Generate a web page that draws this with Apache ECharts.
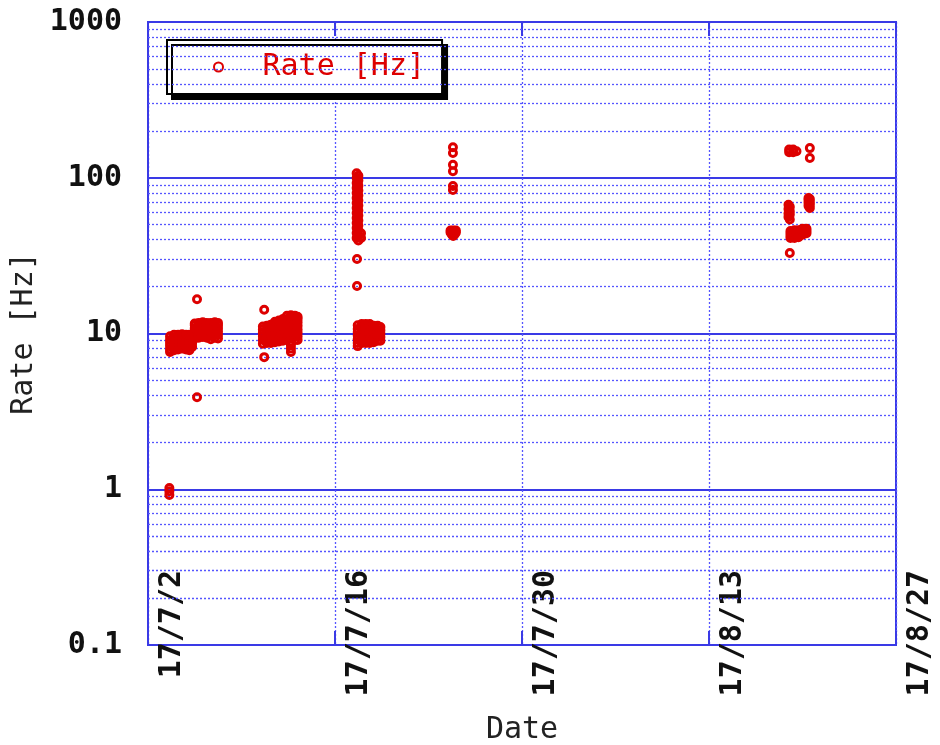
<!DOCTYPE html>
<html>
<head>
<meta charset="utf-8">
<script src="https://cdn.jsdelivr.net/npm/echarts@6/dist/echarts.min.js"></script>
<style>
html,body{margin:0;padding:0;background:#fff;}
#chart{width:940px;height:745px;}
</style>
</head>
<body>
<div id="chart"></div>
<script>
// x values are days since 2017-07-02, y values are rate in Hz.
// Each run lists [day, [rates read at that day]].
const xTickLabels = ['17/7/2', '17/7/16', '17/7/30', '17/8/13', '17/8/27'];
const yTickLabels = ['0.1', '1', '10', '100', '1000'];
const seriesName = 'Rate [Hz]';

const runJul3 = [
  [1.6, [0.92, 0.97, 1.02]],
  [1.65, [7.6, 7.9, 8.3, 8.7, 9.1, 9.6]],
  [1.95, [7.8, 8.2, 8.6, 9.0, 9.4, 9.8]],
  [2.25, [7.9, 8.3, 8.7, 9.1, 9.5, 9.8]],
  [2.55, [8.0, 8.4, 8.8, 9.2, 9.6, 9.9]],
  [2.85, [7.9, 8.3, 8.7, 9.1, 9.5, 9.8]],
  [3.1, [7.8, 8.2, 8.6, 9.0, 9.4, 9.8]],
  [3.3, [8.2, 8.6, 9.0, 9.4, 9.7]]
];
const runJul5 = [
  [3.5, [9.3, 9.8, 10.3, 10.8, 11.3, 11.6]],
  [3.67, [3.9, 16.6]],
  [3.8, [9.4, 9.9, 10.4, 10.9, 11.4, 11.7]],
  [4.1, [9.5, 10.0, 10.5, 11.0, 11.5, 11.8]],
  [4.4, [9.4, 9.9, 10.4, 10.9, 11.4, 11.7]],
  [4.7, [9.2, 9.7, 10.2, 10.7, 11.2, 11.7]],
  [5.0, [9.4, 9.9, 10.4, 10.9, 11.4, 11.8]],
  [5.24, [9.3, 9.8, 10.3, 10.8, 11.3, 11.7]]
];
const runJul11 = [
  [8.6, [8.6, 9.1, 9.6, 10.1, 10.6, 11.1]],
  [8.7, [7.05, 14.2]],
  [8.9, [8.7, 9.1, 9.6, 10.1, 10.6, 11.2]],
  [9.2, [8.7, 9.2, 9.7, 10.2, 10.7, 11.4]],
  [9.5, [8.8, 9.2, 9.7, 10.2, 10.8, 11.4, 11.9]],
  [9.8, [8.9, 9.3, 9.8, 10.3, 10.9, 11.5, 12.1]],
  [10.1, [9.0, 9.5, 10.0, 10.5, 11.1, 11.7, 12.4]],
  [10.4, [9.1, 9.6, 10.1, 10.6, 11.2, 11.8, 12.4, 13.0]],
  [10.7, [7.6, 8.0, 8.4, 8.8, 9.3, 9.8, 10.3, 10.8, 11.4, 12.0, 12.6, 13.1]],
  [11.0, [9.1, 9.6, 10.1, 10.6, 11.2, 11.8, 12.4, 13.0]],
  [11.2, [9.1, 9.6, 10.1, 10.6, 11.2, 11.8, 12.4, 12.8]]
];
const runJul17 = [
  [15.62, [107, 99.6, 92.5, 85.9, 79.8, 74.1, 68.8, 63.9, 59.4, 55.1, 51.2, 47.6, 44.2, 41.0]],
  [15.75, [103, 96, 89, 82.8, 77, 71.4, 66.3, 61.6, 57.2, 53.1, 49.4, 45.9, 42.6, 39.5]],
  [15.95, [41, 44]],
  [15.65, [20.2, 30.1]],
  [15.7, [8.3, 8.7, 9.2, 9.7, 10.2, 10.7, 11.3]],
  [16.0, [8.7, 9.2, 9.7, 10.2, 10.7, 11.3, 11.5]],
  [16.3, [8.7, 9.2, 9.7, 10.2, 10.7, 11.3, 11.5]],
  [16.6, [8.7, 9.2, 9.7, 10.2, 10.7, 11.3, 11.5]],
  [16.9, [8.8, 9.2, 9.7, 10.2, 10.7, 11.2]],
  [17.2, [9.0, 9.5, 10.0, 10.5, 11.0, 11.2]],
  [17.4, [9.0, 9.5, 10.0, 10.5, 11.0]]
];
const runJul24 = [
  [22.83, [83.4, 88.5, 110, 121, 144, 157]],
  [22.65, [44.5, 45.8]],
  [22.85, [42.3, 44.5, 45.8]],
  [23.05, [44.5, 45.8]],
  [22.75, [43.2]],
  [22.95, [43.2]]
];
const runAug19 = [
  [48.0, [146, 152]],
  [48.3, [146, 152]],
  [48.55, [148]],
  [49.55, [134, 155]],
  [47.95, [56, 59, 63, 67]],
  [48.05, [32.9, 54, 58, 61, 65]],
  [49.45, [66, 69, 72, 74]],
  [49.55, [64, 67, 70, 73]],
  [48.1, [41, 42.5, 44, 45.5]],
  [48.4, [41, 42.5, 44, 46]],
  [48.7, [41.5, 43, 44.5, 46]],
  [49.0, [43, 44.5, 46, 47]],
  [49.3, [44, 45.5, 47]]
];

const red = '#dd0000';
const blue = '#3a3ae6';
const dotBlue = '#5555ff';
const mono = '"DejaVu Sans Mono", "Liberation Mono", monospace';

function expand(run) {
  const out = [];
  run.forEach(function (r) { r[1].forEach(function (v) { out.push([r[0], v]); }); });
  return out;
}

// minor (2..9) log grid levels
const minorLevels = [];
for (let d = -1; d < 3; d++) {
  for (let k = 2; k <= 9; k++) minorLevels.push(k * Math.pow(10, d));
}

const allPoints = [].concat(
  expand(runJul3), expand(runJul5), expand(runJul11),
  expand(runJul17), expand(runJul24), expand(runAug19)
);

const minorStyle = {color: dotBlue, width: 1.3, type: [2, 2], opacity: 1};

const chart = echarts.init(document.getElementById('chart'), null, {renderer: 'canvas'});
chart.setOption({
  animation: false,
  backgroundColor: '#fff',
  grid: {
    left: 148, right: 44, top: 22, bottom: 100,
    outerBoundsMode: 'none', containLabel: false,
    show: true, borderColor: blue, borderWidth: 2, backgroundColor: 'transparent'
  },
  legend: {
    left: 167, top: 40,
    orient: 'horizontal',
    padding: [12, 17, 12, 46],
    itemWidth: 78, itemHeight: 9,
    backgroundColor: '#fff',
    borderColor: '#000', borderWidth: 2, borderRadius: 0,
    shadowColor: '#000', shadowBlur: 0, shadowOffsetX: 5, shadowOffsetY: 5,
    selectedMode: false,
    data: [{
      name: seriesName, icon: 'circle',
      itemStyle: {color: 'rgba(255,255,255,0)', borderColor: red, borderWidth: 2}
    }],
    textStyle: {color: red, fontFamily: mono, fontSize: 30}
  },
  xAxis: [{
    type: 'value', min: 0, max: 56, interval: 14,
    position: 'bottom',
    name: 'Date', nameLocation: 'middle', nameGap: 70,
    nameTextStyle: {color: '#222', fontFamily: mono, fontSize: 30},
    axisLine: {show: true, lineStyle: {color: blue, width: 2}},
    axisTick: {show: true, inside: true, length: 14, lineStyle: {color: blue, width: 2}},
    axisLabel: {
      show: true, rotate: 90, margin: -75,
      verticalAlign: 'top', padding: [9, 0, 0, 0],
      showMinLabel: true, showMaxLabel: true,
      color: '#111', fontFamily: mono, fontWeight: 'bold', fontSize: 30,
      formatter: function (v) { return xTickLabels[Math.round(v / 14)]; }
    },
    splitLine: {show: true, lineStyle: {color: dotBlue, width: 1.3, type: [2, 2]}}
  }, {
    type: 'value', min: 0, max: 56, interval: 14,
    position: 'top',
    axisLine: {show: false},
    axisTick: {show: true, inside: true, length: 14, lineStyle: {color: blue, width: 2}},
    axisLabel: {show: false},
    splitLine: {show: false}
  }],
  yAxis: {
    type: 'log', logBase: 10, min: 0.1, max: 1000,
    name: 'Rate [Hz]', nameLocation: 'middle', nameGap: 95, nameRotate: 90,
    nameTextStyle: {color: '#222', fontFamily: mono, fontSize: 30},
    axisLine: {show: true, lineStyle: {color: blue, width: 2}},
    axisTick: {show: false},
    axisLabel: {
      margin: 26, color: '#111', fontFamily: mono, fontWeight: 'bold', fontSize: 30,
      showMinLabel: true, showMaxLabel: true,
      formatter: function (v) {
        const i = Math.round(Math.log10(v)) + 1;
        return yTickLabels[i];
      }
    },
    splitLine: {show: true, lineStyle: {color: blue, width: 2, type: 'solid'}}
  },
  series: [{
    name: 'minorGrid',
    type: 'scatter',
    data: [],
    z: 1,
    silent: true,
    color: dotBlue,
    itemStyle: {color: dotBlue},
    markLine: {
      silent: true, symbol: 'none', animation: false,
      label: {show: false},
      emphasis: {disabled: true},
      lineStyle: minorStyle,
      data: minorLevels.map(function (v) { return {yAxis: v, lineStyle: minorStyle}; })
    }
  }, {
    name: seriesName,
    type: 'scatter',
    z: 5,
    symbol: 'circle',
    symbolSize: 7,
    itemStyle: {color: 'rgba(255,255,255,0)', borderColor: red, borderWidth: 3, opacity: 1},
    data: allPoints
  }]
});
</script>
</body>
</html>
